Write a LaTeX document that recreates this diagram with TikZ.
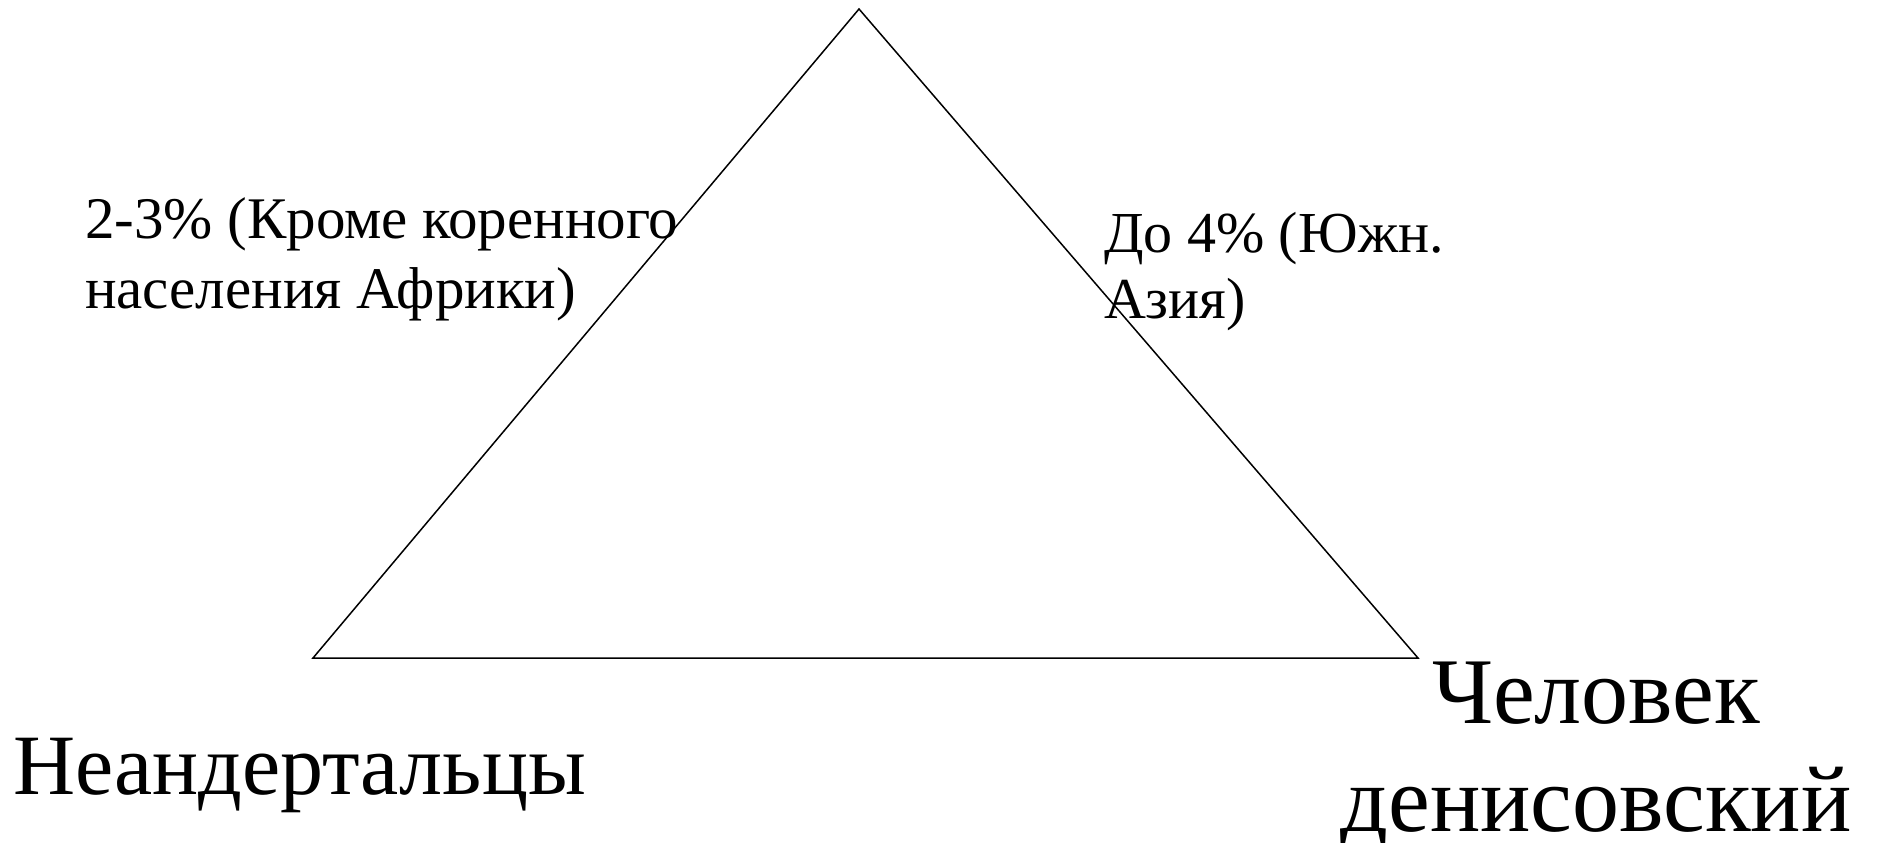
\documentclass[tikz,border=0pt]{standalone}
\usepackage{fontspec}
\setmainfont{Liberation Serif}
\begin{document}
\begin{tikzpicture}[x=1pt,y=-1pt,
  lbl/.style={inner sep=0pt, outer sep=0pt, align=left, text=black},
  edge/.style={draw=black, line width=1.5pt, line join=miter}]
\useasboundingbox[fill=white] (0,0) rectangle (1887,843);
\coordinate (top) at (859,9);
\coordinate (bl) at (313,658);
\coordinate (br) at (1418,658);
\draw[edge] (top) -- (bl) -- (br) -- cycle;
\node[lbl, anchor=base west, font=\fontsize{59}{70}\selectfont] (left) at (85,308) {2-3\% (Кроме коренного\\населения Африки)};
\node[lbl, anchor=base west, font=\fontsize{58}{66}\selectfont] (right) at (1104,318) {До 4\% (Южн.\\Азия)};
\node[lbl, anchor=base west, font=\fontsize{86}{95}\selectfont] (neand) at (13,794) {Неандертальцы};
\node[lbl, align=center, anchor=base, font=\fontsize{94}{108}\selectfont] (denis) at (1596,831) {Человек\\денисовский};
\end{tikzpicture}
\end{document}
